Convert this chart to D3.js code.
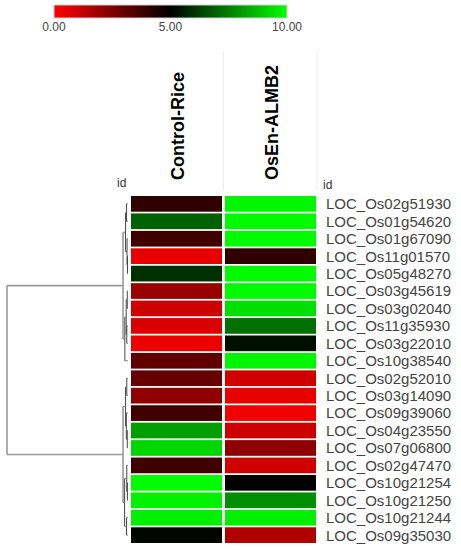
<!DOCTYPE html>
<meta charset="utf-8">
<style>
body { margin: 0; background: #fff; }
text { font-family: Arial, "Liberation Sans", sans-serif; }
</style>
<body>
<script src="https://d3js.org/d3.v7.min.js"></script>
<script>

// gene ids (row order from the clustering)
var ids = ["LOC_Os02g51930", "LOC_Os01g54620", "LOC_Os01g67090", "LOC_Os11g01570",
  "LOC_Os05g48270", "LOC_Os03g45619", "LOC_Os03g02040", "LOC_Os11g35930",
  "LOC_Os03g22010", "LOC_Os10g38540", "LOC_Os02g52010", "LOC_Os03g14090",
  "LOC_Os09g39060", "LOC_Os04g23550", "LOC_Os07g06800", "LOC_Os02g47470",
  "LOC_Os10g21254", "LOC_Os10g21250", "LOC_Os10g21244", "LOC_Os09g35030"];

var samples = ["Control-Rice", "OsEn-ALMB2"];

// expression values (0 = red, 5 = black, 10 = green)
var controlRice = [4.05, 6.9, 3.75, 0.45, 5.95, 2.0, 0.9, 0.75, 0.35, 3.1,
  3.0, 2.2, 3.75, 8.1, 9.2, 3.75, 9.95, 9.7, 9.7, 5.1];
var osEnALMB2 = [9.8, 9.9, 9.9, 4.05, 9.9, 9.9, 9.4, 7.2, 5.3, 9.8,
  0.9, 0.45, 0.3, 1.0, 2.2, 0.9, 5.0, 7.8, 9.7, 1.55];

var legendTicks = [0, 5, 10];

// dendrogram: [height, child, child], leaves are row indices
var tree = [1.0,
  [0.041,
    [0.02, [0.012, 0, 1], [0.008, 2, [0.004, 3, 4]]],
    [0.026, [0.015, [0.006, 5, 6], [0.01, 7, 8]], 9]],
  [0.041,
    [0.02, [0.01, 10, 11], [0.014, 12, [0.006, 13, 14]]],
    [0.028, [0.01, 15, [0.005, 16, 17]], [0.012, 18, 19]]]];

var width = 461, height = 550;

var svg = d3.select("body").append("svg")
    .attr("width", width)
    .attr("height", height);

// colour scale
var color = d3.scaleLinear()
    .domain([0, 5, 10])
    .range(["#ff0000", "#000000", "#00ff00"]);

// ---- colour legend ----
var lx = d3.scaleLinear().domain([0, 10]).range([54, 287]);

var grad = svg.append("defs").append("linearGradient")
    .attr("id", "grad");
grad.selectAll("stop")
    .data(legendTicks)
  .enter().append("stop")
    .attr("offset", function(d) { return (d / 10 * 100) + "%"; })
    .attr("stop-color", function(d) { return color(d); });

svg.append("rect")
    .attr("x", lx(0))
    .attr("y", 5)
    .attr("width", lx(10) - lx(0))
    .attr("height", 13)
    .style("fill", "url(#grad)")
    .style("stroke", "#d0d0d0")
    .style("stroke-width", 1);

svg.selectAll(".ltick")
    .data(legendTicks)
  .enter().append("text")
    .attr("class", "ltick")
    .attr("x", function(d) { return lx(d); })
    .attr("y", 31)
    .style("text-anchor", "middle")
    .style("font-size", "12px")
    .style("fill", "#444")
    .text(d3.format(".2f"));

// ---- heatmap ----
var x = d3.scaleBand().domain(samples).range([131, 316]).paddingInner(0.032);
var y = d3.scaleBand().domain(ids).range([196, 543]).paddingInner(0.1);

// header separators
svg.selectAll(".sep")
    .data([x.range()[0] + x.step() - x.step() * x.paddingInner() / 2, x.range()[1] + 1])
  .enter().append("line")
    .attr("x1", function(d) { return d; })
    .attr("x2", function(d) { return d; })
    .attr("y1", 52)
    .attr("y2", 190)
    .style("stroke", "#ebebeb")
    .style("stroke-width", 1);

// column headers
svg.selectAll(".colLabel")
    .data(samples)
  .enter().append("text")
    .attr("class", "colLabel")
    .attr("transform", function(d) {
      return "translate(" + (x(d) + x.bandwidth() / 2 + 1) + ",180) rotate(-90)";
    })
    .attr("dy", "0.35em")
    .style("font-size", "18px")
    .style("font-weight", "bold")
    .style("fill", "#000")
    .text(function(d) { return d; });

svg.append("text")
    .attr("x", 117).attr("y", 187)
    .style("font-size", "12px").style("fill", "#333")
    .text("id");
svg.append("text")
    .attr("x", 323).attr("y", 189)
    .style("font-size", "12px").style("fill", "#333")
    .text("id");

var series = [controlRice, osEnALMB2];
samples.forEach(function(s, j) {
  svg.selectAll(".cell" + j)
      .data(series[j])
    .enter().append("rect")
      .attr("x", x(s))
      .attr("y", function(d, i) { return y(ids[i]); })
      .attr("width", x.bandwidth())
      .attr("height", y.bandwidth())
      .style("fill", function(d) { return color(d); });
});

// row labels
svg.selectAll(".rowLabel")
    .data(ids)
  .enter().append("text")
    .attr("x", 326)
    .attr("y", function(d) { return y(d) + y.bandwidth() / 2; })
    .attr("dy", "0.36em")
    .style("font-size", "15px")
    .style("fill", "#444")
    .text(function(d) { return d; });

// ---- dendrogram ----
var hx = d3.scaleLinear().domain([0, 1]).range([128, 7]);
var dendro = svg.append("g");

function drawNode(n) {
  if (typeof n === "number") {
    return { x: hx(0), y: y(ids[n]) + y.bandwidth() / 2 };
  }
  var kids = n.slice(1).map(drawNode);
  var nx = hx(n[0]);
  var big = n[0] >= 0.04;
  var stroke = big ? "#999" : "#444";
  var sw = big ? 1.6 : 1;
  var ys = kids.map(function(k) { return k.y; });
  dendro.append("line")
      .attr("x1", nx).attr("x2", nx)
      .attr("y1", d3.min(ys)).attr("y2", d3.max(ys))
      .style("stroke", stroke).style("stroke-width", sw);
  kids.forEach(function(k) {
    dendro.append("line")
        .attr("x1", nx).attr("x2", k.x)
        .attr("y1", k.y).attr("y2", k.y)
        .style("stroke", n[0] >= 0.5 ? "#999" : "#666")
        .style("stroke-width", n[0] >= 0.5 ? 1.6 : 0.8);
  });
  return { x: nx, y: d3.mean(ys) };
}
drawNode(tree);

</script>
</body>
